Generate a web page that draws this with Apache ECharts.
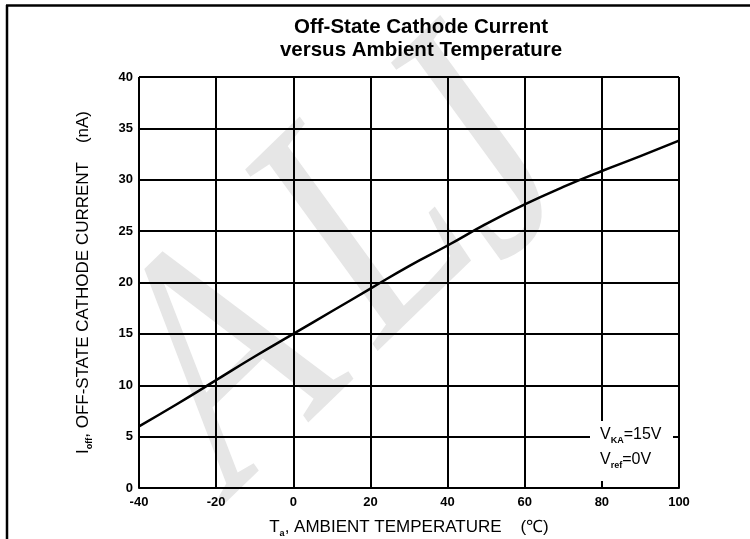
<!DOCTYPE html>
<html>
<head>
<meta charset="utf-8">
<script src="https://cdn.jsdelivr.net/npm/echarts@6/dist/echarts.min.js"></script>
<style>html,body{margin:0;padding:0;background:#fff;}#c{width:750px;height:539px;}</style>
</head>
<body>
<div id="c"></div>
<script>
var temperature = [-40, -30, -20, -10, 0, 10, 20, 30, 40, 50, 60, 70, 80, 90, 100];
var current = [6.0, 8.2, 10.5, 12.8, 15.0, 17.2, 19.4, 21.6, 23.6, 25.7, 27.6, 29.3, 30.85, 32.3, 33.8];
var xTicks = [-40, -20, 0, 20, 40, 60, 80, 100];
var yTicks = [0, 5, 10, 15, 20, 25, 30, 35, 40];

var chart = echarts.init(document.getElementById('c'));
var font = '"Liberation Sans", Arial, sans-serif';
var pts = temperature.map(function (t, i) { return [t, current[i]]; });
var wm = { fontFamily: '"Liberation Serif", serif', fontStyle: 'italic', fontSize: 340, fill: '#e6e6e6', align: 'center', verticalAlign: 'middle' };
function wmText(ch, x, y) {
  return { type: 'text', x: x, y: y, rotation: 0.77, scaleX: 0.8, z: -1, silent: true, style: Object.assign({ text: ch }, wm) };
}

chart.setOption({
  animation: false,
  backgroundColor: '#fff',
  title: {
    text: 'Off-State Cathode Current\nversus Ambient Temperature',
    left: 421, top: 16, textAlign: 'center', padding: 0,
    textStyle: { fontFamily: font, fontSize: 20.5, fontWeight: 'bold', color: '#000', lineHeight: 23 }
  },
  grid: { left: 139, right: 71, top: 77, bottom: 51, outerBoundsMode: 'none', containLabel: false },
  xAxis: {
    type: 'value', min: xTicks[0], max: xTicks[xTicks.length - 1], interval: 20,
    axisLine: { lineStyle: { color: '#000', width: 2 } },
    axisTick: { show: false },
    splitLine: { show: true, lineStyle: { color: '#000', width: 2 } },
    axisLabel: { color: '#000', fontFamily: font, fontSize: 13, fontWeight: 'bold', margin: 8 },
    name: '{n|T}{s|a}{n|, AMBIENT TEMPERATURE    (℃)}',
    nameLocation: 'middle', nameGap: 29,
    nameTextStyle: {
      rich: {
        n: { fontFamily: font, fontSize: 17, color: '#000' },
        s: { fontFamily: font, fontSize: 9, fontWeight: 'bold', color: '#000', padding: [12, 0, 0, 0] }
      }
    }
  },
  yAxis: {
    type: 'value', min: yTicks[0], max: yTicks[yTicks.length - 1], interval: 5,
    axisLine: { lineStyle: { color: '#000', width: 2 } },
    axisTick: { show: false },
    splitLine: { show: true, lineStyle: { color: '#000', width: 2 } },
    axisLabel: { color: '#000', fontFamily: font, fontSize: 13, fontWeight: 'bold', margin: 6 },
    name: '{n|I}{s|off}{n|, OFF-STATE CATHODE CURRENT    (nA)}',
    nameLocation: 'middle', nameGap: 45,
    nameTextStyle: {
      rich: {
        n: { fontFamily: font, fontSize: 17, color: '#000' },
        s: { fontFamily: font, fontSize: 9, fontWeight: 'bold', color: '#000', padding: [12, 0, 0, 0] }
      }
    }
  },
  graphic: [
    { type: 'line', shape: { x1: 6, y1: 5.5, x2: 750, y2: 5.5 }, style: { stroke: '#000', lineWidth: 2.5 }, z: 100 },
    { type: 'line', shape: { x1: 7, y1: 5, x2: 7, y2: 539 }, style: { stroke: '#000', lineWidth: 2.5 }, z: 100 },
    wmText('A', 232, 372),
    wmText('L', 372, 232),
    wmText('J', 482, 160),
    { type: 'rect', shape: { x: 590, y: 421, width: 83, height: 60 }, style: { fill: '#fff' }, z: 50 },
    { type: 'text', left: 600, top: 424, z: 51,
      style: {
        text: '{n|V}{s|KA}{n|=15V}\n{n|V}{s|ref}{n|=0V}',
        rich: {
          n: { fontFamily: font, fontSize: 16, fill: '#000', lineHeight: 25 },
          s: { fontFamily: font, fontSize: 9, fontWeight: 'bold', fill: '#000', padding: [12, 0, 0, 0], lineHeight: 25 }
        }
      } }
  ],
  series: [{
    type: 'line', data: pts, smooth: true, symbol: 'none', z: 10,
    lineStyle: { color: '#000', width: 2.5 }
  }]
});
</script>
</body>
</html>
